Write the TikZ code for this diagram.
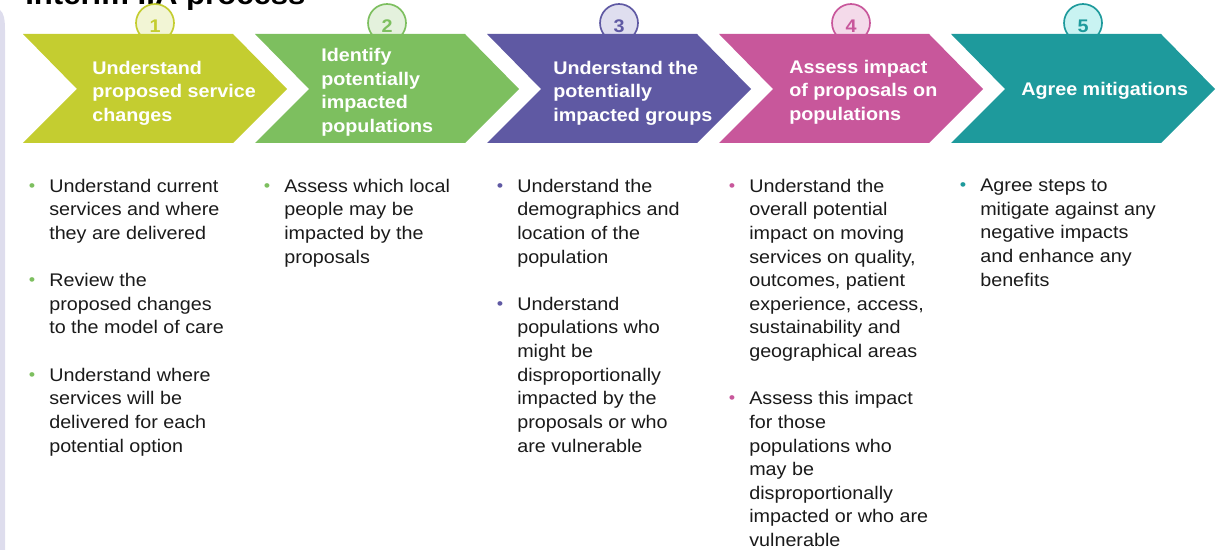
\documentclass[tikz,border=0pt]{standalone}
\usepackage{fontspec}
\setmainfont{Liberation Sans}[FakeStretch=1.08]
\usepackage{xcolor}
\usetikzlibrary{positioning}

\definecolor{stepA}{HTML}{C4CD30}
\definecolor{stepB}{HTML}{7DBF5F}
\definecolor{stepC}{HTML}{5F59A3}
\definecolor{stepD}{HTML}{C8579B}
\definecolor{stepE}{HTML}{1E9A9C}
\definecolor{tintA}{HTML}{F2F5D5}
\definecolor{tintB}{HTML}{E4F1DD}
\definecolor{tintC}{HTML}{DFDEEF}
\definecolor{tintD}{HTML}{F4DAEA}
\definecolor{tintE}{HTML}{C9F3F2}
\definecolor{bandcol}{HTML}{DEDDED}
\definecolor{bodycol}{HTML}{1A1A1A}

\newcommand{\bul}[1]{\leavevmode\llap{\textcolor{#1}{\raisebox{0.8pt}{\fontsize{12}{12}\selectfont\textbullet}}\hspace{9.9pt}}}

\tikzset{
  numcirc/.style={circle, draw=#1, line width=1.2pt, minimum size=27pt, inner sep=0pt,
    text=#1, font=\fontsize{13}{13}\selectfont\bfseries, text height=13.6pt, text depth=0pt},
  headtxt/.style={anchor=west, align=left, inner sep=0pt, text=white,
    font=\fontsize{13}{16.7}\selectfont\bfseries},
  bodytxt/.style={anchor=north west, align=left, inner sep=0pt, text=bodycol,
    font=\fontsize{13}{16.8}\selectfont}
}

\begin{document}
\begin{tikzpicture}[x=0.025cm, y=-0.025cm]
  \useasboundingbox (0,0) rectangle (1220,550);
  \clip (0,0) rectangle (1220,550);

  % side band and title
  \fill[bandcol] (0,10) .. controls (4,13) and (5,20) .. (5,30) -- (5,550) -- (0,550) -- cycle;
  \node[anchor=base west, inner sep=0pt, font=\fontsize{20.5}{24}\selectfont\bfseries] (title) at (25,4.5) {Interim IIA process};

  % number circles
  \node[numcirc=stepA, fill=tintA] (n1) at (155,23) {1};
  \node[numcirc=stepB, fill=tintB] (n2) at (387,23) {2};
  \node[numcirc=stepC, fill=tintC] (n3) at (619,23) {3};
  \node[numcirc=stepD, fill=tintD] (n4) at (851,23) {4};
  \node[numcirc=stepE, fill=tintE] (n5) at (1083,23) {5};

  % chevrons
  \fill[stepA] (23,34) -- ++(210,0) -- ++(54,55) -- ++(-54,54) -- ++(-210,0) -- ++(54,-54) -- cycle;
  \fill[stepB] (255,34) -- ++(210,0) -- ++(54,55) -- ++(-54,54) -- ++(-210,0) -- ++(54,-54) -- cycle;
  \fill[stepC] (487,34) -- ++(210,0) -- ++(54,55) -- ++(-54,54) -- ++(-210,0) -- ++(54,-54) -- cycle;
  \fill[stepD] (719,34) -- ++(210,0) -- ++(54,55) -- ++(-54,54) -- ++(-210,0) -- ++(54,-54) -- cycle;
  \fill[stepE] (951,34) -- ++(210,0) -- ++(54,55) -- ++(-54,54) -- ++(-210,0) -- ++(54,-54) -- cycle;

  % chevron texts
  \node[headtxt] (h1) at (92,93) {Understand\\proposed service\\changes};
  \node[headtxt] (h2) at (321,92.5) {Identify\\potentially\\impacted\\populations};
  \node[headtxt] (h3) at (553,93) {Understand the\\potentially\\impacted groups};
  \node[headtxt] (h4) at (789,92) {Assess impact\\of proposals on\\populations};
  \node[headtxt] (h5) at (1021,91) {Agree mitigations};

  % bullet columns
  \node[bodytxt] (b1) at (49,178.7) {\bul{stepB}Understand current\\services and where\\they are delivered\\[16.8pt]
    \bul{stepB}Review the\\proposed changes\\to the model of care\\[16.8pt]
    \bul{stepB}Understand where\\services will be\\delivered for each\\potential option};
  \node[bodytxt] (b2) at (284,178.7) {\bul{stepB}Assess which local\\people may be\\impacted by the\\proposals};
  \node[bodytxt] (b3) at (517,178.7) {\bul{stepC}Understand the\\demographics and\\location of the\\population\\[16.8pt]
    \bul{stepC}Understand\\populations who\\might be\\disproportionally\\impacted by the\\proposals or who\\are vulnerable};
  \node[bodytxt] (b4) at (749,178.7) {\bul{stepD}Understand the\\overall potential\\impact on moving\\services on quality,\\outcomes, patient\\experience, access,\\sustainability and\\geographical areas\\[16.8pt]
    \bul{stepD}Assess this impact\\for those\\populations who\\may be\\disproportionally\\impacted or who are\\vulnerable};
  \node[bodytxt] (b5) at (980,178.7) {\bul{stepE}Agree steps to\\mitigate against any\\negative impacts\\and enhance any\\benefits};
\end{tikzpicture}
\end{document}
